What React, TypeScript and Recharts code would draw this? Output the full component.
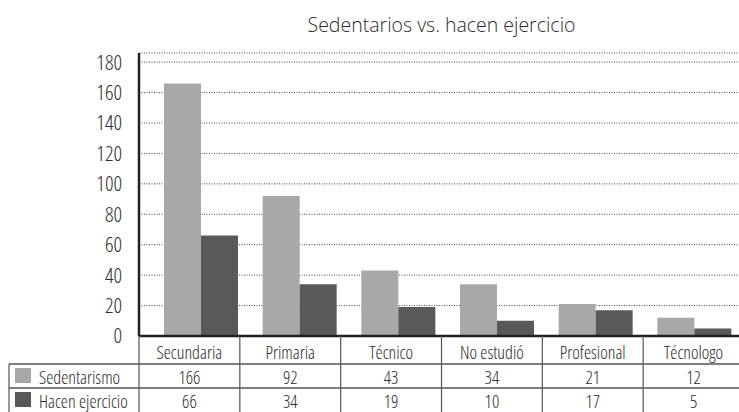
import React from 'react';
import { BarChart, Bar, XAxis, YAxis, CartesianGrid } from 'recharts';

const categories = ['Secundaria', 'Primaria', 'Técnico', 'No estudió', 'Profesional', 'Técnologo'];
const sedentarismo = [166, 92, 43, 34, 21, 12];
const hacenEjercicio = [66, 34, 19, 10, 17, 5];
const yTicks = [0, 20, 40, 60, 80, 100, 120, 140, 160, 180];

const series = [
  { key: 'sed', name: 'Sedentarismo', values: sedentarismo, color: '#A7A8AA' },
  { key: 'eje', name: 'Hacen ejercicio', values: hacenEjercicio, color: '#58595B' },
];

const data = categories.map((cat, i) => ({ cat, sed: sedentarismo[i], eje: hacenEjercicio[i] }));

const FONT = "'Open Sans', sans-serif";
const STRETCH = 'condensed';
const WEIGHT = 300;
const TEXT = '#2b2b2b';
const RULE = '#555';

// data table drawn under the plot, one cell column per tick
function TableTick(props: any) {
  const { x, y, payload, index, width, visibleTicksCount } = props;
  const band = width / visibleTicksCount;
  const left = x - band / 2;
  const right = x + band / 2;
  const legendLeft = left - 130;
  const rowTop = [y + 28, y + 52];
  const bottom = y + 100;
  return (
    <g fontFamily={FONT} fontStretch={STRETCH} fontWeight={WEIGHT} fill={TEXT}>
      {index === 0 && (
        <g>
          <line x1={left} x2={left} y1={y} y2={bottom} stroke={RULE} strokeWidth={1.2} />
          <line x1={legendLeft} x2={legendLeft} y1={rowTop[0]} y2={bottom} stroke={RULE} strokeWidth={1.2} />
          {rowTop.map((ry) => (
            <line key={ry} x1={legendLeft} x2={left + width} y1={ry} y2={ry} stroke={RULE} strokeWidth={1.5} />
          ))}
          {series.map((s, i) => (
            <g key={s.key}>
              <rect x={legendLeft + 6} y={rowTop[i] + 4} width={16} height={15} fill={s.color} />
              <text x={legendLeft + 30} y={rowTop[i] + 20} fontSize={18}>
                {s.name}
              </text>
            </g>
          ))}
        </g>
      )}
      <line x1={right} x2={right} y1={y} y2={bottom} stroke={RULE} strokeWidth={1.2} />
      <text x={x} y={y + 23} fontSize={18} textAnchor="middle">
        {payload.value}
      </text>
      {series.map((s, i) => (
        <text key={s.key} x={x} y={rowTop[i] + 20} fontSize={18} textAnchor="middle">
          {s.values[index]}
        </text>
      ))}
    </g>
  );
}

export default function App() {
  return (
    <div style={{ position: 'absolute', left: 0, top: 0, width: 739, height: 412, overflow: 'hidden', background: '#fff' }}>
      <div
        style={{
          position: 'absolute',
          left: 0,
          width: 883,
          top: 12,
          textAlign: 'center',
          fontFamily: FONT,
          fontWeight: WEIGHT,
          fontSize: 19.5,
          lineHeight: '25px',
          color: TEXT,
        }}
      >
        Sedentarios vs. hacen ejercicio
      </div>
      <BarChart
        width={750}
        height={412}
        data={data}
        margin={{ top: 53, right: 6, bottom: 0, left: 79 }}
        barGap={0}
        barCategoryGap={12}
      >
        <CartesianGrid xAxisId="table" vertical={false} stroke="#444" strokeDasharray="1 1.5" />
        <XAxis xAxisId="bars" dataKey="cat" hide height={0} padding={{ left: 13, right: 0 }} />
        <XAxis
          xAxisId="table"
          dataKey="cat"
          height={76}
          interval={0}
          axisLine={{ stroke: '#222', strokeWidth: 2.5 }}
          tickLine={false}
          tickSize={0}
          tickMargin={0}
          tick={<TableTick />}
        />
        <YAxis
          width={60}
          domain={[0, 186]}
          ticks={yTicks}
          interval={0}
          axisLine={{ stroke: '#222', strokeWidth: 2.5 }}
          tickLine={false}
          tickSize={0}
          tickMargin={17}
          tick={{ fontSize: 21, fill: TEXT, fontFamily: FONT, fontStretch: STRETCH, fontWeight: WEIGHT }}
        />
        {series.map((s) => (
          <Bar key={s.key} xAxisId="bars" dataKey={s.key} name={s.name} fill={s.color} isAnimationActive={false} />
        ))}
      </BarChart>
    </div>
  );
}
